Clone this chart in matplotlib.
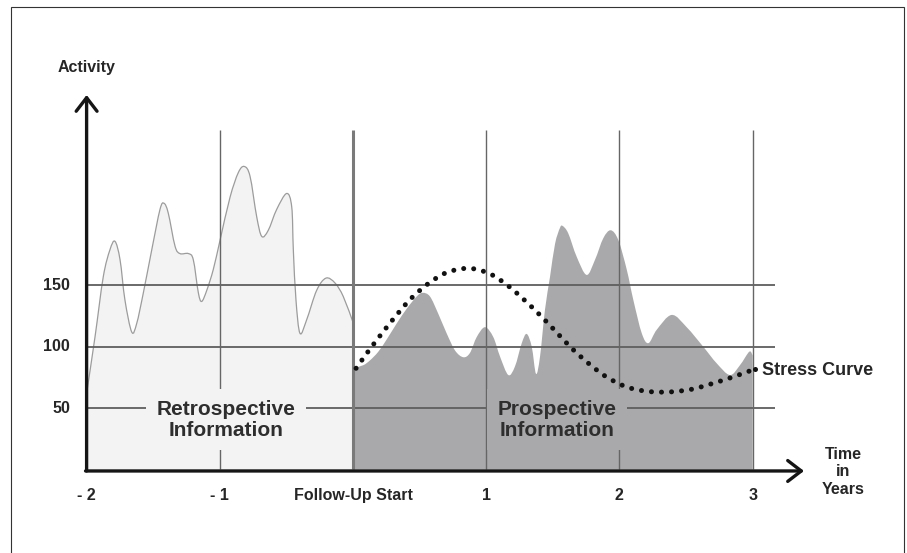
import matplotlib
matplotlib.use('Agg')
import numpy as np
import matplotlib.pyplot as plt
from matplotlib.patches import Rectangle, PathPatch
from matplotlib.path import Path

plt.rcParams['font.family'] = ['Liberation Sans', 'DejaVu Sans']

# ---------------- data ----------------
# Retrospective activity (years relative to follow-up start, activity)
retro_t = [-2.0, -1.937, -1.875, -1.825, -1.787, -1.749, -1.712, -1.661, -1.624,
           -1.574, -1.511, -1.449, -1.419, -1.387, -1.336, -1.299, -1.236, -1.199,
           -1.161, -1.136, -1.098, -1.049, -0.998, -0.923, -0.861, -0.816, -0.773,
           -0.723, -0.685, -0.636, -0.573, -0.498, -0.460, -0.448, -0.428, -0.398,
           -0.348, -0.273, -0.203, -0.135, -0.073, 0.0]
retro_v = [62, 108, 157, 179, 186, 171, 138, 112, 119,
           144, 179, 212, 217, 209, 182, 176, 176, 171,
           144, 137, 146, 163, 187, 222, 242, 247, 239,
           206, 190, 195, 212, 225, 214, 179, 138, 111,
           122, 146, 156, 152, 141, 120]

# Prospective activity
pro_t = [0.0, 0.077, 0.128, 0.190, 0.253, 0.328, 0.403, 0.478, 0.523, 0.578,
         0.640, 0.703, 0.766, 0.828, 0.878, 0.929, 0.991, 1.053, 1.104, 1.166,
         1.216, 1.267, 1.304, 1.342, 1.374, 1.404, 1.441, 1.479, 1.517, 1.554,
         1.574, 1.616, 1.679, 1.754, 1.817, 1.879, 1.935, 1.992, 2.055, 2.105,
         2.168, 2.218, 2.281, 2.393, 2.505, 2.630, 2.730, 2.830, 2.905, 2.975, 3.0]
pro_v = [82.5, 85, 89, 96, 106, 119, 131, 141, 144, 141,
         127, 111, 97, 91.5, 95, 108, 116, 108, 92, 77,
         84, 103, 110.5, 100, 78, 92, 130, 157, 184, 197,
         198.5, 192.5, 173.5, 158.6, 171, 188.5, 195, 187, 163, 138,
         111, 103, 114, 126, 116, 100, 86.6, 77, 85, 96, 93]

# Stress curve
stress_t = [0.023, 0.122, 0.223, 0.328, 0.435, 0.561, 0.703, 0.871, 1.029, 1.166,
            1.286, 1.411, 1.524, 1.642, 1.767, 1.899, 2.05, 2.21, 2.375, 2.543,
            2.705, 2.86, 3.018]
stress_v = [82.5, 97.4, 111.8, 126, 139.3, 151.2, 160.5, 164, 159.4, 149.6,
            138.2, 125.1, 112.3, 98.8, 86.6, 75.7, 67.5, 63.7, 63.2, 65.4,
            70.3, 75.7, 81.9]

grid_values = [50, 100, 150]
grid_labels = ['50', '100', '150']
year_ticks = [-2, -1, 0, 1, 2, 3]
year_labels = ['- 2', '- 1', 'Follow-Up Start', '1', '2', '3']


def smooth_verts(xs, ys):
    """Catmull-Rom through the read points, expressed as cubic Bezier segments."""
    p = np.column_stack([xs, ys]).astype(float)
    n = len(p)
    verts = [tuple(p[0])]
    codes = [Path.MOVETO]
    for i in range(n - 1):
        p0 = p[i - 1] if i > 0 else p[i]
        p1, p2 = p[i], p[i + 1]
        p3 = p[i + 2] if i + 2 < n else p[i + 1]
        c1 = p1 + (p2 - p0) / 6.0
        c2 = p2 - (p3 - p1) / 6.0
        verts += [tuple(c1), tuple(c2), tuple(p2)]
        codes += [Path.CURVE4] * 3
    return verts, codes


def area_path(xs, ys, base=0.0):
    verts, codes = smooth_verts(xs, ys)
    verts += [(xs[-1], base), (xs[0], base), (xs[0], ys[0])]
    codes += [Path.LINETO, Path.LINETO, Path.CLOSEPOLY]
    return Path(verts, codes)


# ---------------- figure ----------------
fig = plt.figure(figsize=(9.07, 5.53), dpi=100)
ax = fig.add_axes([0, 0, 1, 1])
ax.set_xlim(-2.6502, 4.1592)
ax.set_ylim(-68.07, 382.7)
ax.axis('off')

TXT = '#262626'
LIGHT = '#f3f3f3'
DARK = '#a9a9ab'

# fills
ax.add_patch(PathPatch(area_path(retro_t, retro_v), fc=LIGHT, ec='none', zorder=1))
v, c = smooth_verts(retro_t, retro_v)
ax.add_patch(PathPatch(Path(v, c), fill=False, ec='#9c9c9c', lw=0.9, zorder=2))
ax.add_patch(PathPatch(area_path(pro_t, pro_v), fc=DARK, ec='none', zorder=1))

# grid
ax.hlines(grid_values, -2, 3.168, color='#5e5e5e', lw=1.3, zorder=3)
ax.vlines([-1, 1, 2, 3], 0, 276.4, color='#666666', lw=1.0, zorder=3)
ax.vlines([0], 0, 276.4, color='#7a7a7a', lw=2.2, zorder=3)

# region labels
ax.text(-0.953, 40.5, 'Retrospective\nInformation', ha='center', va='center',
        fontsize=15, fontweight='bold', color='#2e2e2e', linespacing=1.15,
        bbox=dict(boxstyle='square,pad=0.5', fc=LIGHT, ec='none'), zorder=4)
ax.text(1.532, 40.5, 'Prospective\nInformation', ha='center', va='center',
        fontsize=15, fontweight='bold', color='#2e2e2e', linespacing=1.15,
        bbox=dict(boxstyle='square,pad=0.5', fc=DARK, ec='none'), zorder=4)

# stress curve (dotted)
v, c = smooth_verts(stress_t, stress_v)
sp = PathPatch(Path(v, c), fill=False, ec='#111111', lw=3.6,
               linestyle=(0, (0.01, 2.0)), zorder=5)
sp.set_capstyle('round')
ax.add_patch(sp)
ax.plot([stress_t[-1]], [stress_v[-1]], 'o', ms=3.6, mfc='#111111', mec='none',
        zorder=5)
ax.text(3.071, 81, 'Stress Curve', ha='left', va='center', fontsize=13,
        fontweight='bold', color=TXT, zorder=5)

# axes with arrows
arrow = dict(arrowstyle='->,head_length=0.65,head_width=0.5', lw=2.4,
             color='#151515', mutation_scale=15, shrinkA=0, shrinkB=0)
ax.annotate('', xy=(-2, 305.3), xytext=(-2, -1.2), arrowprops=arrow, zorder=6)
ax.annotate('', xy=(3.386, -1.2), xytext=(-2.008, -1.2), arrowprops=arrow, zorder=6)

# tick labels
for val, lab in zip(grid_values, grid_labels):
    ax.text(-2.125, val, lab, ha='right', va='center', fontsize=11.5,
            fontweight='bold', color=TXT)
for t, lab in zip(year_ticks, year_labels):
    ax.text(t, -21.5, lab, ha='center', va='center', fontsize=11.5,
            fontweight='bold', color=TXT)

ax.text(-1.998, 328, 'Activity', ha='center', va='center', fontsize=11.5,
        fontweight='bold', color=TXT)
ax.text(3.679, -1.8, 'Time\nin\nYears', ha='center', va='center', fontsize=11.5,
        fontweight='bold', color=TXT, linespacing=1.2)

# frame around the picture
fig.add_artist(Rectangle((11 / 907, -0.1), (904 - 11) / 907, 1.1 - 7 / 553,
                         transform=fig.transFigure, fill=False, ec='#333333', lw=0.8))

fig.savefig('out.png', dpi=100)
